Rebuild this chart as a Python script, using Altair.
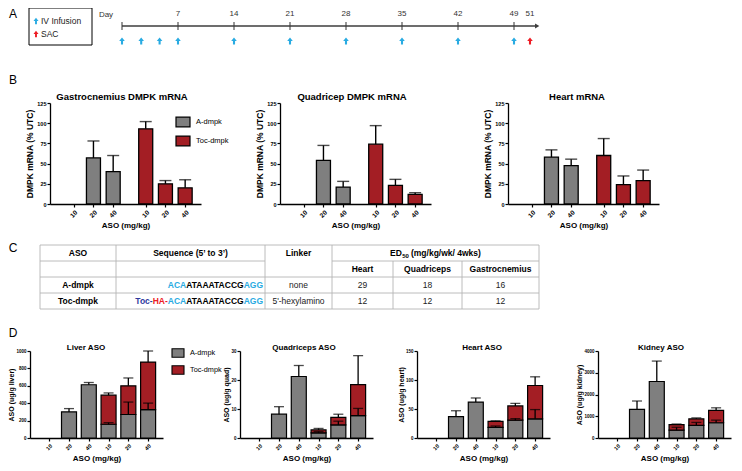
import altair as alt
import pandas as pd

FONT = "Liberation Sans"
W, H = 726, 455
M = 8

GRAY = "#7f7f7f"
RED = "#a31e24"
SKY = "#29abe2"
NAVY = "#2e3a9e"
HARED = "#ed1c24"
AXC = "#3c3c3c"

# ---------------- Panel A: dosing schedule ----------------
tick_days = [0, 7, 14, 21, 28, 35, 42, 49]
label_days = [7, 14, 21, 28, 35, 42, 49, 51]
infusion_days = [0, 2.4, 4.7, 7, 14, 21, 28, 35, 42, 49]
sac_days = [51]
schedule_keys = ["IV Infusion", "SAC"]

# ---------------- Panel B: DMPK mRNA (% UTC) ----------------
groups = ["A-dmpk", "Toc-dmpk"]
doses = ["10", "20", "40"]
b_titles = ["Gastrocnemius DMPK mRNA", "Quadricep DMPK mRNA", "Heart mRNA"]
# order: A-dmpk 10/20/40, Toc-dmpk 10/20/40
gastro_mean = [None, 57, 40, 93, 25, 20]
gastro_err = [None, 21, 20, 9, 4, 10]
quad_mean = [None, 54, 21, 74, 23, 12]
quad_err = [None, 18.5, 7, 23, 7.5, 2]
heart_mean = [None, 58, 47.5, 60, 24, 29]
heart_err = [None, 9, 8, 21, 10.7, 13]

# ---------------- Panel C: table ----------------
table_head = ["ASO", "Sequence (5\u2019 to 3\u2019)", "Linker"]
ed50_tissues = ["Heart", "Quadriceps", "Gastrocnemius"]
aso_names = ["A-dmpk", "Toc-dmpk"]
seq_segments = [
    [("ACA", "wing"), ("ATAAATACCG", "gap"), ("AGG", "wing")],
    [("Toc-", "toc"), ("HA-", "linker"), ("ACA", "wing"), ("ATAAATACCG", "gap"), ("AGG", "wing")],
]
linkers = ["none", "5'-hexylamino"]
ed50_values = [[29, 18, 16], [12, 12, 12]]

# ---------------- Panel D: tissue ASO levels ----------------
d_titles = ["Liver ASO", "Quadriceps ASO", "Heart ASO", "Kidney ASO"]
d_units = ["ASO (ug/g liver)", "ASO (ug/g quad)", "ASO (ug/g heart)", "ASO (ug/g kidney)"]
d_ticks = [[0, 200, 400, 600, 800, 1000], [0, 10, 20, 30], [0, 50, 100, 150], [0, 1000, 2000, 3000, 4000]]
d_a_mean = [[None, 300, 612], [None, 8.2, 21.2], [None, 37, 62], [None, 1313, 2597]]
d_a_err = [[None, 38, 26], [None, 2.6, 3.8], [None, 10, 7], [None, 388, 940]]
d_t_low = [[158, 270, 326], [1.8, 4.5, 7.7], [18.4, 30.7, 33], [358, 582, 701]]
d_t_low_err = [[18, 143, 75], [0.4, 1.3, 2.5], [2.3, 2.8, 16], [135, 134, 120]]
d_t_tot = [[492, 600, 873], [2.8, 7.1, 18.4], [28.5, 55.3, 90.5], [612, 880, 1269]]
d_t_tot_err = [[26, 90, 127], [0.5, 1.1, 10], [1.1, 4.5, 15], [30, 45, 119]]

# ================= layout (page pixels) =================
def P(v):
    return v - M

PAGE_X = alt.Scale(domain=[0, 742], range=[-M, 742 - M], nice=False, zero=False)
PAGE_Y = alt.Scale(domain=[0, 471], range=[-M, 471 - M], nice=False, zero=False)
ARROW = "M-0.3,1L0.3,1L0.3,0L0.8,0L0,-1L-0.8,0L-0.3,0Z"
RECT = "M-1,-0.7H1V0.7H-1Z"

BOLD_W = {" ": 278, "(": 333, ")": 333, "/": 278, "-": 333, "A": 722, "C": 722, "D": 722,
          "E": 667, "G": 778, "H": 722, "T": 611, "a": 556, "c": 556, "g": 611, "k": 556,
          "m": 889, "o": 611, "s": 556, "w": 778}
KERN = {"AT": -74, "TA": -74, "To": -100}


def tw(s, size):
    w = sum(BOLD_W.get(ch, 556) for ch in s)
    w += sum(KERN.get(s[i:i + 2], 0) for i in range(len(s) - 1))
    return w * size / 1000.0


def px_enc(xf="x", yf="y"):
    return dict(x=alt.X(f"{xf}:Q", scale=PAGE_X, axis=None), y=alt.Y(f"{yf}:Q", scale=PAGE_Y, axis=None))


def page_text(df, size, weight="normal", align="center", color="black", baseline="middle"):
    enc = px_enc()
    enc["text"] = alt.Text("t:N")
    if "c" in df.columns:
        enc["color"] = alt.Color("c:N", scale=None)
    return alt.Chart(df).mark_text(font=FONT, fontSize=size, fontWeight=weight, align=align,
                                   baseline=baseline, color=color).encode(**enc)


def page_rules(df, color="#b4b4b4", width=0.9):
    enc = px_enc("x0", "y0")
    enc["x2"] = alt.X2("x1:Q")
    enc["y2"] = alt.Y2("y1:Q")
    return alt.Chart(df).mark_rule(color=color, strokeWidth=width).encode(**enc)


def axis(orient, offset, values, title, lab_size, title_size, title_pad, label_angle=0, label_pad=2, **kw):
    return alt.Axis(orient=orient, offset=offset, values=values, title=title, grid=False,
                    domainColor="black", domainWidth=1.3, tickColor="black", tickWidth=1.2, tickSize=3,
                    labelFont=FONT, labelFontSize=lab_size, labelFontWeight="bold", labelColor="black",
                    labelPadding=label_pad, labelAngle=label_angle, labelOverlap=False, labelFlush=False,
                    labelBound=False, titleFont=FONT, titleFontSize=title_size, titleFontWeight="bold",
                    titleColor="black", titlePadding=title_pad, **kw)


def label_expr(positions, labels):
    parts = [f"abs(datum.value - {p}) < 0.01 ? '{l}'" for p, l in zip(positions, labels)]
    return " : ".join(parts) + " : ''"


layers = []

# ---------- panel letters ----------
layers.append(page_text(pd.DataFrame({"t": ["A", "B", "C", "D"], "x": [13, 13, 13, 13],
                                      "y": [14, 80, 248, 333]}), 12))

# ---------- Panel A ----------
DAY0_X, PX_PER_DAY = 122, 8
DAY_SCALE = alt.Scale(domain=[0, 51], range=[P(DAY0_X), P(DAY0_X + PX_PER_DAY * 51)], nice=False, zero=False)
AX_Y, LAB_Y, ARR_Y = 26, 14, 41
AXIS_END = 51.9


def day_enc(df_field="d", y_field="y"):
    return dict(x=alt.X(f"{df_field}:Q", scale=DAY_SCALE, axis=None),
                y=alt.Y(f"{y_field}:Q", scale=PAGE_Y, axis=None))


ax_df = pd.DataFrame({"d": [0], "e": [AXIS_END], "y": [AX_Y]})
enc = day_enc()
enc["x2"] = alt.X2("e:Q")
layers.append(alt.Chart(ax_df).mark_rule(color=AXC, strokeWidth=1.5).encode(**enc))
layers.append(alt.Chart(ax_df).mark_point(shape="triangle-right", filled=True, size=24, color=AXC,
                                          opacity=1).encode(**day_enc("e")))
layers.append(alt.Chart(pd.DataFrame({"d": tick_days, "y": AX_Y})).mark_tick(
    orient="vertical", size=8, thickness=1.5, color=AXC).encode(**day_enc()))
lab_df = pd.DataFrame({"d": label_days, "y": LAB_Y, "t": [str(v) for v in label_days]})
layers.append(alt.Chart(lab_df).mark_text(font=FONT, fontSize=8, color="#333333").encode(
    text="t:N", **day_enc()))
layers.append(alt.Chart(pd.DataFrame({"d": [-2], "y": [LAB_Y + 1], "t": ["Day"]})).mark_text(
    font=FONT, fontSize=8, color="#333333").encode(text="t:N", **day_enc()))
arr_df = pd.DataFrame({"d": infusion_days + sac_days, "y": ARR_Y,
                       "c": [SKY] * len(infusion_days) + [HARED] * len(sac_days)})
enc = day_enc()
enc["color"] = alt.Color("c:N", scale=None)
layers.append(alt.Chart(arr_df).mark_point(shape=ARROW, filled=True, size=49, opacity=1).encode(**enc))

# schedule key box
layers.append(alt.Chart(pd.DataFrame({"x0": [29], "x1": [92], "y0": [8], "y1": [45]})).mark_rect(
    fillOpacity=0, stroke="black", strokeWidth=1).encode(
    x=alt.X("x0:Q", scale=PAGE_X, axis=None), x2="x1:Q",
    y=alt.Y("y0:Q", scale=PAGE_Y, axis=None), y2="y1:Q"))
key_df = pd.DataFrame({"x": [36, 36], "y": [21, 34], "c": [SKY, HARED]})
layers.append(alt.Chart(key_df).mark_point(shape=ARROW, filled=True, size=40, opacity=1).encode(
    color=alt.Color("c:N", scale=None), **px_enc()))
layers.append(page_text(pd.DataFrame({"x": [41, 41], "y": [21, 34], "t": schedule_keys}), 8.5,
                        align="left", color="#222222"))

# ---------- Panel B ----------
B_POS = [0, 1, 2, 3.65, 4.65, 5.65]
B_DOM = [-0.95, 6.2]
B_W = 151
B_TOP, B_BOT = 103, 204
B_LEFT = [50, 280, 508]
B_TITLE_X = [122, 352, 577]
B_TITLE_Y = 97


def b_panel(k, means, errs):
    left = B_LEFT[k]
    rows = []
    for i in range(6):
        if means[i] is None:
            continue
        rows.append({"pos": B_POS[i], "grp": groups[i // 3], "lo": 0, "val": means[i],
                     "top": means[i] + errs[i]})
    df = pd.DataFrame(rows)
    xs = alt.Scale(domain=B_DOM, range=[P(left), P(left) + B_W], nice=False, zero=False)
    ys = alt.Scale(domain=[0, 125], range=[P(B_BOT), P(B_TOP)], nice=False, zero=False)
    xax = axis("bottom", P(B_BOT) - H, B_POS, "ASO (mg/kg)", 6.5, 8, 3, label_angle=-45, label_pad=2,
               labelExpr=label_expr(B_POS, doses * 2))
    yax = axis("left", -P(left), [0, 25, 50, 75, 100, 125], "DMPK mRNA (% UTC)", 5.5, 8.5, 2, label_pad=1)
    X = alt.X("pos:Q", scale=xs, axis=xax)
    if k == 0:
        leg = alt.Legend(orient="none", legendX=P(175), legendY=P(114), title=None, symbolType=RECT,
                         symbolSize=196, symbolStrokeColor="black", symbolStrokeWidth=1.2, symbolOpacity=1,
                         labelFont=FONT, labelFontSize=7.5, labelColor="black", labelOffset=5,
                         rowPadding=3, padding=0)
    else:
        leg = None
    bars = alt.Chart(df).mark_bar(width=14, stroke="black", strokeWidth=1.3, orient="vertical").encode(
        x=X, y=alt.Y("val:Q", scale=ys, axis=yax, stack=None), y2="lo:Q",
        color=alt.Color("grp:N", scale=alt.Scale(domain=groups, range=[GRAY, RED]), legend=leg))
    rules = alt.Chart(df).mark_rule(color="black", strokeWidth=1.4).encode(
        x=X, y=alt.Y("val:Q", scale=ys, axis=yax), y2="top:Q")
    caps = alt.Chart(df).mark_tick(orient="horizontal", size=12, thickness=1.4, color="black").encode(
        x=X, y=alt.Y("top:Q", scale=ys, axis=yax))
    return alt.layer(bars, rules, caps)


for k, (mn, er) in enumerate([(gastro_mean, gastro_err), (quad_mean, quad_err), (heart_mean, heart_err)]):
    layers.append(b_panel(k, mn, er))
layers.append(page_text(pd.DataFrame({"x": B_TITLE_X, "y": B_TITLE_Y, "t": b_titles}), 9.5, weight="bold"))

# ---------- Panel C: table ----------
COLS = [40, 116, 265, 332, 393, 462, 539]
HL = [245, 261, 277, 293, 309]
TY = [253, 269, 285, 301]
SEQ_RIGHT = 263
ctr = [(COLS[i] + COLS[i + 1]) / 2 for i in range(6)]

hl = [(COLS[0], COLS[-1], HL[0]), (COLS[0], COLS[2], HL[1]), (COLS[3], COLS[-1], HL[1]),
      (COLS[0], COLS[-1], HL[2]), (COLS[0], COLS[-1], HL[3]), (COLS[0], COLS[-1], HL[4])]
vl = [(c, HL[1] if c in (COLS[4], COLS[5]) else HL[0], HL[4]) for c in COLS]
rule_df = pd.DataFrame([{"x0": a, "x1": b, "y0": y, "y1": y} for a, b, y in hl] +
                       [{"x0": c, "x1": c, "y0": a, "y1": b} for c, a, b in vl])
layers.append(page_rules(rule_df))

head_df = pd.DataFrame({"x": ctr[:3] + ctr[3:], "y": [TY[0]] * 3 + [TY[1]] * 3,
                        "t": table_head + ed50_tissues})
layers.append(page_text(head_df, 8.5, weight="bold"))
# ED50 header with subscript
ed_c = (COLS[3] + COLS[6]) / 2
s1, s2, s3 = "ED", "50", "(mg/kg/wk/ 4wks)"
tot_w = tw(s1, 8.5) + tw(s2, 6) + tw(" " + s3, 8.5)
p_sub = ed_c - tot_w / 2 + tw(s1, 8.5)
layers.append(page_text(pd.DataFrame({"x": [p_sub], "y": [TY[0]], "t": [s1]}), 8.5, weight="bold",
                        align="right"))
layers.append(page_text(pd.DataFrame({"x": [p_sub + tw(s2, 6) + tw(" ", 8.5)], "y": [TY[0]], "t": [s3]}),
                        8.5, weight="bold", align="left"))
layers.append(page_text(pd.DataFrame({"x": [p_sub + 0.3], "y": [TY[0] + 2.5], "t": [s2]}), 6,
                        weight="bold", align="left"))
# body
layers.append(page_text(pd.DataFrame({"x": [ctr[0]] * 2, "y": TY[2:], "t": aso_names}), 8.5, weight="bold"))
seg_colors = {"wing": SKY, "gap": "black", "toc": NAVY, "linker": HARED}
seg_rows = []
for r, segs in enumerate(seq_segments):
    xr = SEQ_RIGHT
    for txt, kind in reversed(segs):
        seg_rows.append({"x": xr, "y": TY[2 + r], "t": txt, "c": seg_colors[kind]})
        xr -= tw(txt, 8.5)
layers.append(page_text(pd.DataFrame(seg_rows), 8.5, weight="bold", align="right"))
body = []
for r in range(2):
    body.append({"x": ctr[2], "y": TY[2 + r], "t": linkers[r]})
    for j in range(3):
        body.append({"x": ctr[3 + j], "y": TY[2 + r], "t": str(ed50_values[r][j])})
layers.append(page_text(pd.DataFrame(body), 8.5, color="#222222"))

# ---------- Panel D ----------
D_POS = [0, 1, 2, 3, 4, 5]
D_DOM = [-0.72, 5.5]
D_W = 133
D_TOP, D_BOT = 351, 438
D_LEFT = [30, 240, 417, 598]
D_TITLE_X = [86, 304, 482, 661]
D_TITLE_Y = 348


def d_panel(k):
    left = D_LEFT[k]
    bars, errs = [], []
    for i in range(3):
        v = d_a_mean[k][i]
        if v is not None:
            bars.append({"pos": D_POS[i], "grp": groups[0], "lo": 0, "hi": v})
            errs.append({"pos": D_POS[i], "v": v, "e": v + d_a_err[k][i]})
    for i in range(3):
        p = D_POS[3 + i]
        lo, tot = d_t_low[k][i], d_t_tot[k][i]
        bars.append({"pos": p, "grp": groups[0], "lo": 0, "hi": lo})
        bars.append({"pos": p, "grp": groups[1], "lo": lo, "hi": tot})
        errs.append({"pos": p, "v": lo, "e": lo + d_t_low_err[k][i]})
        errs.append({"pos": p, "v": tot, "e": tot + d_t_tot_err[k][i]})
    bdf, edf = pd.DataFrame(bars), pd.DataFrame(errs)
    ymax = d_ticks[k][-1]
    xs = alt.Scale(domain=D_DOM, range=[P(left), P(left) + D_W], nice=False, zero=False)
    ys = alt.Scale(domain=[0, ymax], range=[P(D_BOT), P(D_TOP)], nice=False, zero=False)
    xax = axis("bottom", P(D_BOT) - H, D_POS, "ASO (mg/kg)", 5.5, 8, 3, label_angle=-45, label_pad=2,
               labelExpr=label_expr(D_POS, doses * 2))
    yax = axis("left", -P(left), d_ticks[k], d_units[k], 4.5, 7, 1, label_pad=1, format="d")
    X = alt.X("pos:Q", scale=xs, axis=xax)
    if k == 0:
        leg = alt.Legend(orient="none", legendX=P(171), legendY=P(346), title=None, symbolType=RECT,
                         symbolSize=144, symbolStrokeColor="black", symbolStrokeWidth=1.1, symbolOpacity=1,
                         labelFont=FONT, labelFontSize=7.3, labelColor="black", labelOffset=5,
                         rowPadding=3, padding=0)
    else:
        leg = None
    b = alt.Chart(bdf).mark_bar(width=15, stroke="black", strokeWidth=1.2, orient="vertical").encode(
        x=X, y=alt.Y("hi:Q", scale=ys, axis=yax, stack=None), y2="lo:Q",
        color=alt.Color("grp:N", scale=alt.Scale(domain=groups, range=[GRAY, RED]), legend=leg))
    r = alt.Chart(edf).mark_rule(color="black", strokeWidth=1.3).encode(
        x=X, y=alt.Y("v:Q", scale=ys, axis=yax), y2="e:Q")
    c = alt.Chart(edf).mark_tick(orient="horizontal", size=10, thickness=1.3, color="black").encode(
        x=X, y=alt.Y("e:Q", scale=ys, axis=yax))
    return alt.layer(b, r, c)


for k in range(4):
    layers.append(d_panel(k))
layers.append(page_text(pd.DataFrame({"x": D_TITLE_X, "y": D_TITLE_Y, "t": d_titles}), 8, weight="bold"))

chart = alt.layer(*layers).resolve_scale(
    x="independent", y="independent", color="independent"
).properties(
    width=W, height=H, autosize=alt.AutoSizeParams(type="none"), padding=0
).configure_view(stroke="transparent")

chart.save("out.html", embed_options={"renderer": "svg", "actions": False})
